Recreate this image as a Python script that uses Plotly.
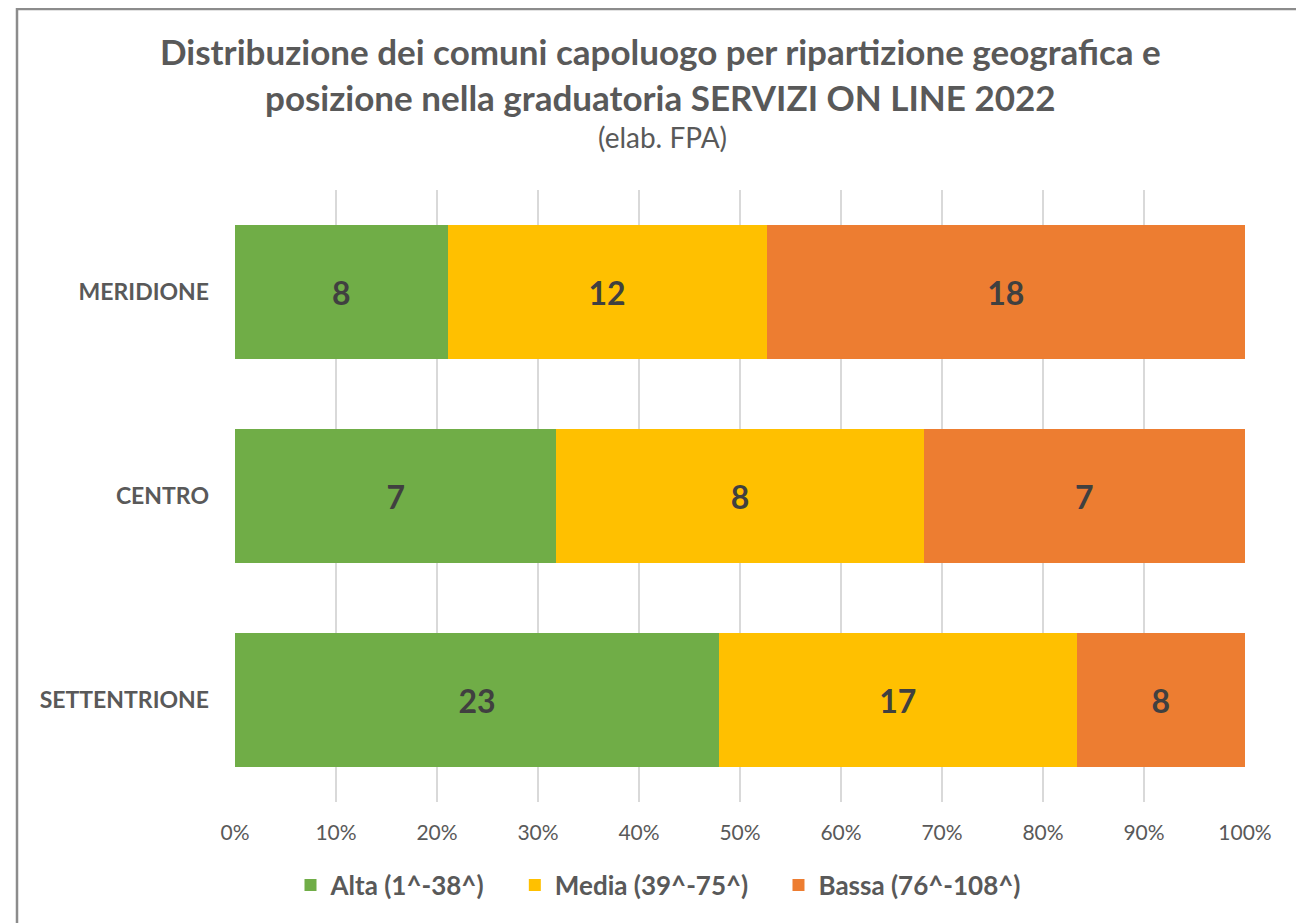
import plotly.graph_objects as go

# categories top to bottom as in the picture
regioni = ["MERIDIONE", "CENTRO", "SETTENTRIONE"]

alta = [8, 7, 23]
media = [12, 8, 17]
bassa = [18, 7, 8]

serie_nomi = ["Alta (1^-38^)", "Media (39^-75^)", "Bassa (76^-108^)"]
colori = ["#70AD47", "#FFC000", "#ED7D31"]

x_ticks = list(range(0, 101, 10))
x_labels = [f"{t}%" for t in x_ticks]

FONT = "Lato"
GRIGIO = "#595959"
SPAZIO = "\u00a0" * 4  # extra room between legend entries

fig = go.Figure()
for nome, valori, col in zip(serie_nomi, [alta, media, bassa], colori):
    fig.add_trace(go.Bar(
        y=regioni,
        x=valori,
        name=nome + SPAZIO,
        orientation="h",
        marker=dict(color=col, line=dict(width=0)),
        text=valori,
        texttemplate="%{text}",
        textposition="inside",
        insidetextanchor="middle",
        textfont=dict(family=FONT, size=32, color="#404040", weight="bold"),
        hoverinfo="skip",
    ))

# page body has an 8px margin, so the figure is a bit smaller than the window
OFF = 8
W, H = 1304 - OFF, 923 - OFF
L, T = 235 - OFF, 190 - OFF
R = W - (1245 - OFF)
B = H - (802 - OFF)
pw, ph = W - L - R, H - T - B


# screenshot pixels -> paper coords
def px(x):
    return (x - OFF - L) / pw


def py(y):
    return (H - B - (y - OFF)) / ph


fig.update_layout(
    width=W, height=H,
    barmode="stack",
    barnorm="percent",
    bargap=0.34,
    plot_bgcolor="white",
    paper_bgcolor="white",
    margin=dict(l=L, r=R, t=T, b=B),
    showlegend=True,
    legend=dict(
        orientation="h",
        x=(671 - OFF) / W, xref="container", xanchor="center",
        y=(923 - 885) / H, yref="container", yanchor="middle",
        font=dict(family=FONT, size=26, color=GRIGIO, weight="bold"),
        itemsizing="constant",
        traceorder="normal",
    ),
    xaxis=dict(
        range=[0, 100],
        tickvals=x_ticks,
        ticktext=x_labels,
        showgrid=True,
        gridcolor="#D9D9D9",
        gridwidth=1.5,
        zeroline=False,
        showline=False,
        ticks="",
        tickfont=dict(family=FONT, size=21, color=GRIGIO),
        ticklabelstandoff=16,
    ),
    yaxis=dict(
        autorange="reversed",
        showgrid=False,
        showline=False,
        ticks="",
        tickfont=dict(family=FONT, size=23, color=GRIGIO, weight="bold"),
        ticklabelstandoff=25,
    ),
    shapes=[dict(
        type="rect", xref="paper", yref="paper",
        x0=px(17), x1=px(1300), y0=py(935), y1=py(OFF + 1),
        line=dict(color="#8C8C8C", width=2.5),
        fillcolor="rgba(0,0,0,0)",
        layer="below",
    )],
    annotations=[
        dict(text="Distribuzione dei comuni capoluogo per ripartizione geografica e",
             x=px(660), y=py(51), xref="paper", yref="paper",
             showarrow=False, xanchor="center", yanchor="middle",
             font=dict(family=FONT, size=35, color=GRIGIO, weight="bold")),
        dict(text="posizione nella graduatoria SERVIZI ON LINE 2022",
             x=px(660), y=py(97), xref="paper", yref="paper",
             showarrow=False, xanchor="center", yanchor="middle",
             font=dict(family=FONT, size=35, color=GRIGIO, weight="bold")),
        dict(text="(elab. FPA)",
             x=px(662), y=py(137), xref="paper", yref="paper",
             showarrow=False, xanchor="center", yanchor="middle",
             font=dict(family=FONT, size=28, color=GRIGIO)),
    ],
)

fig.write_html("out.html")
